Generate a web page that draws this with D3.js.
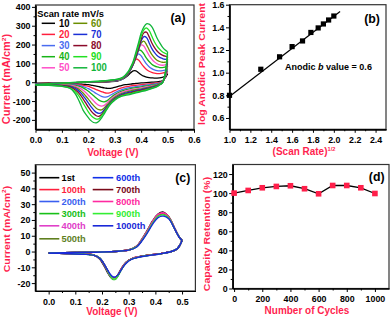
<!DOCTYPE html>
<html><head><meta charset="utf-8">
<script src="https://cdn.jsdelivr.net/npm/d3@7/dist/d3.min.js"></script>
<style>
body{margin:0;background:#fff}
svg{display:block}
text{font-family:"Liberation Sans",Arial,sans-serif}
</style>
</head><body>
<svg id="c" width="392" height="318"></svg>
<script>
// ---------------- DATA ----------------
// (a) CV at different scan rates
const scanRates = ["10","20","30","40","50","60","70","80","90","100"];
const scanColors = ["#000000","#ff1f3d","#4a6cf0","#18b418","#ff4fc8","#6b8e00","#1a2fd6","#8b0a2a","#22e022","#11b53a"];
const cvA_vFwd = [0.00,0.05,0.10,0.15,0.20,0.25,0.28,0.31,0.33,0.35,0.36,0.37,0.38,0.39,0.40,0.41,0.42,0.43,0.44,0.45,0.46,0.47,0.48,0.49,0.50];
const cvA_iFwd = [
  [-6,-4,-3,-2,-1,0,2,6,16,36,50,60,60,50,40,32,27,24,23,22,22,23,26,32,45],
  [-8,-6,-4,-2,0,2,4,8,18,48,70,105,123,118,100,82,68,58,52,48,46,46,48,52,60],
  [-9,-7,-4,-2,0,3,5,9,18,45,68,98,135,150,140,118,97,82,72,65,61,60,61,64,72],
  [-10,-7,-4,-2,0,3,6,10,19,44,66,95,135,170,168,150,128,110,96,87,81,78,78,80,85],
  [-11,-8,-5,-2,1,4,7,11,20,45,66,95,132,172,198,192,168,143,123,108,98,92,90,92,98],
  [-11,-8,-5,-2,1,4,7,12,21,46,66,94,130,172,208,218,200,172,148,130,117,110,106,106,110],
  [-12,-8,-5,-2,1,5,8,13,22,48,68,96,132,175,218,242,238,210,180,158,142,132,126,122,122],
  [-13,-9,-5,-2,2,5,9,14,23,50,72,100,138,182,228,262,266,242,210,185,166,153,144,138,135],
  [-13,-9,-5,-1,2,6,10,15,24,52,76,105,148,195,245,278,288,275,245,215,192,175,162,154,148],
  [-14,-9,-5,-1,3,7,11,17,26,55,80,112,160,210,262,293,310,308,295,268,235,210,188,172,162]
];
const cvA_vRev = [0.50,0.49,0.48,0.47,0.46,0.44,0.42,0.40,0.38,0.36,0.34,0.32,0.30,0.29,0.28,0.27,0.26,0.25,0.24,0.23,0.22,0.21,0.20,0.19,0.18,0.17,0.16,0.15,0.13,0.10,0.05,0.00];
const cvA_iRev = [
  [45,20,8,4,2,0,-2,-4,-6,-10,-13,-20,-28,-31,-33,-32,-30,-27,-24,-21,-18,-15,-13,-12,-11,-10,-9,-9,-8,-8,-7,-6],
  [60,22,4,-1,-4,-7,-10,-13,-16,-20,-25,-33,-45,-51,-57,-58,-55,-50,-45,-39,-33,-27,-22,-19,-16,-14,-13,-12,-11,-10,-9,-8],
  [72,24,2,-4,-8,-12,-15,-19,-23,-28,-34,-43,-56,-64,-72,-78,-79,-75,-68,-60,-51,-42,-34,-28,-23,-19,-16,-14,-12,-11,-10,-9],
  [85,26,0,-6,-11,-16,-20,-25,-29,-34,-41,-51,-66,-76,-88,-99,-104,-102,-95,-84,-72,-60,-48,-38,-30,-24,-20,-17,-14,-12,-11,-10],
  [98,28,-1,-8,-14,-20,-25,-30,-35,-40,-47,-57,-73,-84,-97,-111,-123,-127,-123,-113,-99,-84,-69,-55,-43,-33,-26,-21,-16,-13,-12,-11],
  [110,30,-2,-9,-16,-23,-29,-35,-40,-46,-53,-63,-80,-92,-106,-121,-137,-147,-146,-138,-124,-108,-90,-73,-57,-44,-34,-27,-19,-15,-13,-11],
  [122,32,-3,-11,-18,-26,-33,-39,-45,-51,-58,-68,-85,-97,-112,-129,-147,-162,-165,-160,-147,-130,-110,-90,-71,-55,-42,-33,-22,-17,-14,-12],
  [135,35,-4,-12,-20,-29,-37,-43,-49,-56,-63,-72,-89,-101,-116,-134,-154,-171,-181,-178,-168,-152,-132,-110,-88,-68,-52,-40,-26,-19,-15,-13],
  [148,38,-4,-13,-22,-32,-40,-47,-53,-60,-66,-75,-92,-104,-119,-138,-159,-179,-194,-196,-189,-176,-157,-134,-110,-86,-65,-49,-30,-21,-16,-13],
  [162,40,-5,-15,-24,-34,-43,-50,-57,-64,-70,-78,-95,-108,-124,-145,-168,-190,-207,-216,-214,-204,-188,-170,-148,-115,-85,-60,-32,-22,-17,-14]
];
const aXTicks = [0.0,0.1,0.2,0.3,0.4,0.5,0.6];
const aXMinor = [0.05,0.15,0.25,0.35,0.45,0.55];
const aYTicks = [-200,-100,0,100,200,300,400];
const aYMinor = [-150,-50,50,150,250,350];

// (b) log anodic peak current
const logRate = [1.00,1.30,1.48,1.60,1.70,1.78,1.85,1.90,1.95,2.00];
const logPeak = [0.80,1.03,1.14,1.23,1.28,1.355,1.395,1.43,1.465,1.50];
const fitX = [1.00,2.06];
const fitY = [0.79,1.54];
const bXTicks = [1.0,1.2,1.4,1.6,1.8,2.0,2.2,2.4];
const bXMinor = [1.1,1.3,1.5,1.7,1.9,2.1,2.3];
const bYTicks = [0.6,0.8,1.0,1.2,1.4,1.6];
const bYMinor = [0.7,0.9,1.1,1.3,1.5];

// (c) CV over cycles
const cycleLabels = ["1st","100th","200th","300th","400th","500th","600th","700th","800th","900th","1000th"];
const cycleColors = ["#000000","#ff1f3d","#3a5ff0","#18c018","#e040c8","#5f7f1f","#1030e8","#7a0a1a","#ff2aa0","#33ee33","#1a28d8"];
const cvC_vFwd = [0.00,0.10,0.20,0.26,0.30,0.33,0.35,0.37,0.39,0.41,0.43,0.45,0.47,0.48,0.49,0.50];
const cvC_iFwd = [
  [-1,-0.6,-0.3,0.2,1,3.5,8,13.5,19.5,23.8,25,22,15.5,12,9,7],
  [-1,-0.6,-0.3,0.2,1,3.4,7.8,13.2,19.2,23.5,24.6,21.9,15.5,12,9,7],
  [-1,-0.6,-0.3,0.2,1,3.3,7.6,12.9,18.9,23.2,24.2,21.8,15.5,12,9,7],
  [-1,-0.6,-0.3,0.2,1,3.2,7.4,12.6,18.5,22.8,23.8,21.6,15.4,12,9,7],
  [-1,-0.6,-0.3,0.2,1,3.3,7.7,13,19,23.4,24.4,21.8,15.5,12,9,7],
  [-1,-0.6,-0.3,0.2,1,3.2,7.5,12.8,18.7,23,24,21.7,15.4,12,9,7],
  [-1,-0.6,-0.3,0.2,0.9,3.1,7.2,12.4,18.2,22.5,23.4,21.3,15.3,11.9,9,7],
  [-1,-0.6,-0.3,0.2,1,3.2,7.4,12.6,18.5,22.8,23.7,21.5,15.4,12,9,7],
  [-1,-0.6,-0.3,0.2,1,3.3,7.6,13,19,23.3,24.3,21.8,15.5,12,9,7],
  [-1,-0.6,-0.3,0.2,0.9,3.1,7.2,12.3,18.1,22.4,23.3,21.3,15.3,11.9,9,7],
  [-1,-0.6,-0.3,0.2,0.9,2.9,6.8,11.8,17.4,21.5,22.4,20.7,15.1,11.8,8.9,7]
];
const cvC_vRev = [0.50,0.49,0.48,0.46,0.42,0.38,0.34,0.31,0.29,0.28,0.27,0.26,0.25,0.24,0.23,0.22,0.21,0.20,0.19,0.17,0.13,0.07,0.00];
const cvC_iRev = [
  [7,3.5,1.5,0,-1.3,-2.2,-3.2,-4.6,-6.8,-8.8,-11.5,-14.6,-17,-17.1,-15.8,-13,-9.8,-6.8,-4.5,-2.4,-1.5,-1.2,-1],
  [7,3.5,1.5,0,-1.3,-2.2,-3.2,-4.6,-6.9,-9,-11.7,-14.8,-17,-17.1,-15.2,-12.3,-9.1,-6.2,-4.2,-2.3,-1.5,-1.2,-1],
  [7,3.5,1.5,0,-1.3,-2.2,-3.3,-4.7,-7.1,-9.2,-12,-15.2,-17.4,-17.4,-15.3,-12.2,-8.9,-6,-4.1,-2.3,-1.5,-1.2,-1],
  [7,3.5,1.5,0,-1.3,-2.2,-3.3,-4.7,-7.1,-9.3,-12.1,-15.3,-17.6,-17.6,-15.4,-12.2,-8.8,-5.9,-4,-2.3,-1.5,-1.2,-1],
  [7,3.5,1.5,0,-1.3,-2.2,-3.2,-4.6,-6.9,-9,-11.8,-14.9,-17.1,-17.1,-15.1,-12.1,-8.9,-6.1,-4.1,-2.3,-1.5,-1.2,-1],
  [7,3.5,1.5,0,-1.3,-2.2,-3.3,-4.7,-7,-9.1,-11.8,-14.8,-16.9,-16.9,-15,-12,-8.8,-6,-4,-2.3,-1.5,-1.2,-1],
  [7,3.5,1.5,0,-1.4,-2.3,-3.4,-4.8,-7.2,-9.4,-12.1,-15,-16.8,-16.6,-14.6,-11.6,-8.5,-5.8,-3.9,-2.3,-1.6,-1.2,-1],
  [7,3.5,1.5,0,-1.3,-2.2,-3.3,-4.7,-7.1,-9.2,-11.9,-14.9,-16.9,-16.8,-14.8,-11.8,-8.7,-5.9,-4,-2.3,-1.5,-1.2,-1],
  [7,3.5,1.5,0,-1.3,-2.2,-3.2,-4.6,-7,-9.1,-11.9,-15,-17.1,-17,-15,-12,-8.8,-6,-4.1,-2.3,-1.5,-1.2,-1],
  [7,3.5,1.5,0,-1.4,-2.3,-3.4,-4.8,-7.3,-9.5,-12.3,-15.4,-17.4,-17.2,-15,-11.9,-8.7,-5.9,-4,-2.3,-1.6,-1.2,-1],
  [7,3.5,1.5,0,-1.4,-2.4,-3.5,-5,-7.5,-9.6,-12.2,-14.8,-16.1,-15.9,-14.2,-11.5,-8.6,-6,-4.1,-2.4,-1.7,-1.3,-1]
];
const cXTicks = [0.0,0.1,0.2,0.3,0.4,0.5];
const cXMinor = [0.05,0.15,0.25,0.35,0.45];
const cYTicks = [-20,-10,0,10,20,30,40,50];
const cYMinor = [-15,-5,5,15,25,35,45];

// (d) capacity retention
const cycleNum = [0,100,200,300,400,500,600,700,800,900,1000];
const retention = [100,102.8,105.6,107,107.7,104.6,99.3,108,108,105.6,99.6];
const dXTicks = [0,200,400,600,800,1000];
const dXMinor = [100,300,500,700,900];
const dYTicks = [0,20,40,60,80,100,120];
const dYMinor = [10,30,50,70,90,110];

// ---------------- DRAW ----------------
const SX = 0.95;
const RED = "#ff1f4f";
const svg = d3.select("#c");

function txt(x, y, o = {}) {
  return svg.append("text")
    .attr("transform", `translate(${x},${y}) scale(${SX},1)` + (o.rot ? ` rotate(${o.rot})` : ""))
    .attr("font-size", o.size || 10)
    .attr("text-anchor", o.anchor || "start")
    .attr("fill", o.fill || "#000")
    .attr("font-weight", o.weight || "bold");
}

function styleAxis(g) {
  g.attr("font-family", null).attr("font-size", null);
  g.select(".domain").attr("stroke", "#000").attr("stroke-width", 1.2);
  g.selectAll(".tick line").attr("stroke", "#000").attr("stroke-width", 1);
  g.selectAll(".tick text").attr("font-size", 9.3).attr("font-weight", "bold").attr("fill", "#000")
    .each(function () {
      const t = d3.select(this);
      const xx = +t.attr("x") || 0;
      t.attr("x", xx / SX).attr("transform", `scale(${SX},1)`);
    });
}

function makePanel(p) {
  const x = d3.scaleLinear().domain(p.xd).range([p.l, p.r]);
  const y = d3.scaleLinear().domain(p.yd).range([p.b, p.t]);
  svg.append("rect").attr("x", p.l).attr("y", p.t).attr("width", p.r - p.l).attr("height", p.b - p.t)
    .attr("fill", "none").attr("stroke", "#333").attr("stroke-width", 1.2);
  svg.append("g").attr("transform", `translate(0,${p.b})`)
    .call(d3.axisBottom(x).tickValues(p.xMinor).tickSize(2).tickSizeOuter(0).tickFormat("")).call(styleAxis);
  svg.append("g").attr("transform", `translate(${p.l},0)`)
    .call(d3.axisLeft(y).tickValues(p.yMinor).tickSize(2).tickSizeOuter(0).tickFormat("")).call(styleAxis);
  svg.append("g").attr("transform", `translate(0,${p.b})`)
    .call(d3.axisBottom(x).tickValues(p.xTicks).tickSize(3.5).tickSizeOuter(0).tickPadding(3.5).tickFormat(p.xf)).call(styleAxis);
  svg.append("g").attr("transform", `translate(${p.l},0)`)
    .call(d3.axisLeft(y).tickValues(p.yTicks).tickSize(3.5).tickSizeOuter(0).tickPadding(1.5).tickFormat(p.yf)).call(styleAxis);
  return { x, y };
}

const f1 = d3.format(".1f");
const fi = d => String(d);

// ----- (a)
const A = makePanel({ l: 35.5, r: 194, t: 5, b: 129.3, xd: [0, 0.6], yd: [-250, 410],
  xTicks: aXTicks, xMinor: aXMinor, yTicks: aYTicks, yMinor: aYMinor, xf: f1, yf: fi });
const lineA = d3.line().x(d => A.x(d[0])).y(d => A.y(d[1])).curve(d3.curveCatmullRom.alpha(0.5));
scanRates.forEach((s, i) => {
  const fwd = cvA_vFwd.map((v, j) => [v, cvA_iFwd[i][j]]);
  const rev = cvA_vRev.map((v, j) => [v, cvA_iRev[i][j]]);
  [fwd, rev].forEach(seg => svg.append("path").attr("d", lineA(seg)).attr("fill", "none")
    .attr("stroke", scanColors[i]).attr("stroke-width", 1.3));
});
txt(37.3, 16.5, { size: 9.8 }).text("Scan rate mV/s");
const legAy = [23.3, 34.4, 45.6, 56.7, 67.8];
scanRates.forEach((s, i) => {
  const col = Math.floor(i / 5), row = i % 5;
  const x1 = col ? 73.3 : 41.7, x2 = col ? 87.3 : 55, tx = col ? 91 : 59;
  svg.append("line").attr("x1", x1).attr("x2", x2).attr("y1", legAy[row]).attr("y2", legAy[row])
    .attr("stroke", scanColors[i]).attr("stroke-width", 1.5);
  txt(tx, legAy[row] + 3.5, { size: 10, fill: scanColors[i] }).text(s);
});
txt(178, 21.5, { size: 13, anchor: "middle" }).text("(a)");
txt(113, 156, { size: 10.5, anchor: "middle", fill: RED }).text("Voltage (V)");
{
  const t = txt(9.5, 79, { size: 11, anchor: "middle", fill: RED, rot: -90 });
  t.append("tspan").text("Current (mA/cm");
  t.append("tspan").attr("font-size", 6.5).attr("dy", -4).text("2");
  t.append("tspan").attr("dy", 4).text(")");
}

// ----- (b)
const B = makePanel({ l: 229.5, r: 386, t: 4.7, b: 129.3, xd: [1.0, 2.5], yd: [0.5, 1.6],
  xTicks: bXTicks, xMinor: bXMinor, yTicks: bYTicks, yMinor: bYMinor, xf: f1, yf: f1 });
svg.append("line").attr("x1", B.x(fitX[0])).attr("y1", B.y(fitY[0])).attr("x2", B.x(fitX[1])).attr("y2", B.y(fitY[1]))
  .attr("stroke", "#000").attr("stroke-width", 1.2);
svg.selectAll("rect.pb").data(logRate).join("rect").attr("class", "pb")
  .attr("x", (d) => B.x(d) - 2.6).attr("y", (d, i) => B.y(logPeak[i]) - 2.6)
  .attr("width", 5.2).attr("height", 5.2).attr("fill", "#000");
{
  const t = txt(285, 70.2, { size: 9.5 });
  t.append("tspan").text("Anodic ");
  t.append("tspan").attr("font-style", "italic").text("b");
  t.append("tspan").text(" value = 0.6");
}
txt(372, 22.5, { size: 13, anchor: "middle" }).text("(b)");
{
  const t = txt(304, 155, { size: 10.5, anchor: "middle", fill: RED });
  t.append("tspan").text("(Scan Rate)");
  t.append("tspan").attr("font-size", 6).attr("dy", -4).text("1/2");
}
txt(205, 64, { size: 10.5, anchor: "middle", fill: RED, rot: -90 }).text("log Anodic Peak Current");

// ----- (c)
const C = makePanel({ l: 35.3, r: 195.4, t: 164.7, b: 291, xd: [-0.05, 0.55], yd: [-25, 55],
  xTicks: cXTicks, xMinor: cXMinor, yTicks: cYTicks, yMinor: cYMinor, xf: f1, yf: fi });
const lineC = d3.line().x(d => C.x(d[0])).y(d => C.y(d[1])).curve(d3.curveCatmullRom.alpha(0.5));
cycleLabels.forEach((s, i) => {
  const fwd = cvC_vFwd.map((v, j) => [v, cvC_iFwd[i][j]]);
  const rev = cvC_vRev.map((v, j) => [v, cvC_iRev[i][j]]);
  [fwd, rev].forEach(seg => svg.append("path").attr("d", lineC(seg)).attr("fill", "none")
    .attr("stroke", cycleColors[i]).attr("stroke-width", 1.4));
});
const legCy = [177.7, 189.6, 201.5, 213.6, 225.8, 238.8];
cycleLabels.forEach((s, i) => {
  const col = i < 6 ? 0 : 1, row = i < 6 ? i : i - 6;
  const x1 = col ? 92.7 : 39.3, x2 = col ? 113.3 : 59.3, tx = col ? 116 : 61.5;
  svg.append("line").attr("x1", x1).attr("x2", x2).attr("y1", legCy[row]).attr("y2", legCy[row])
    .attr("stroke", cycleColors[i]).attr("stroke-width", 1.6);
  txt(tx, legCy[row] + 3.5, { size: 9.8, fill: cycleColors[i] }).text(s);
});
txt(182.7, 182, { size: 13, anchor: "middle" }).text("(c)");
txt(112, 314.5, { size: 10.5, anchor: "middle", fill: RED }).text("Voltage (V)");
{
  const t = txt(9.5, 229, { size: 10.5, anchor: "middle", fill: RED, rot: -90 });
  t.append("tspan").text("Current (mA/cm");
  t.append("tspan").attr("font-size", 6.5).attr("dy", -4).text("2");
  t.append("tspan").attr("dy", 4).text(")");
}

// ----- (d)
const D = makePanel({ l: 232.7, r: 389, t: 164.5, b: 288.5, xd: [-10, 1100], yd: [0, 130],
  xTicks: dXTicks, xMinor: dXMinor, yTicks: dYTicks, yMinor: dYMinor, xf: fi, yf: fi });
svg.append("path").attr("d", d3.line().x((d, i) => D.x(cycleNum[i])).y(d => D.y(d))(retention))
  .attr("fill", "none").attr("stroke", "#000").attr("stroke-width", 1.3);
svg.selectAll("rect.pd").data(retention).join("rect").attr("class", "pd")
  .attr("x", (d, i) => D.x(cycleNum[i]) - 2.8).attr("y", d => D.y(d) - 2.8)
  .attr("width", 5.6).attr("height", 5.6).attr("fill", "#ff1f4a");
txt(376.7, 181, { size: 13, anchor: "middle" }).text("(d)");
txt(307, 314, { size: 10.5, anchor: "middle", fill: RED }).text("Number of Cycles");
txt(209.5, 234, { size: 10.5, anchor: "middle", fill: RED, rot: -90 }).text("Capacity Retention (%)");
</script>
</body></html>
